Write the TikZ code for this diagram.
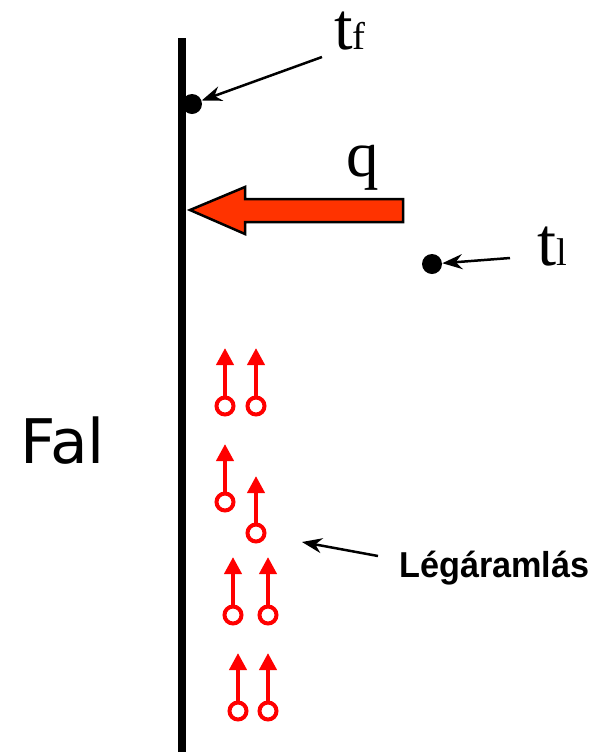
\documentclass[tikz,border=0pt]{standalone}
\usepackage{fontspec}
\setmainfont{Liberation Serif}
\newfontfamily\falfont{DejaVu Sans}
\newfontfamily\labelfont{Liberation Sans}
\usetikzlibrary{arrows.meta}
\definecolor{heatred}{HTML}{FF3300}
\definecolor{flowred}{HTML}{FF0000}

\begin{document}
\begin{tikzpicture}[x=0.02cm, y=-0.02cm,
    wall/.style={line width=0.16cm, black},
    dot/.style={circle, fill=black, inner sep=0pt, minimum width=0.4cm, minimum height=0.32cm},
    pointer/.style={-{Stealth[length=0.4cm, width=0.3cm]}, line width=0.05cm, black},
    bubble/.style={circle, draw=flowred, line width=0.08cm, inner sep=0pt, minimum size=0.34cm},
    flow/.style={-{Triangle[length=0.34cm, width=0.34cm]}, line width=0.08cm, flowred},
    sym/.style={anchor=base west, inner sep=0pt}
  ]
    \useasboundingbox (0,0) rectangle (594,752);

    % wall
    \coordinate (walltop) at (182,38);
    \coordinate (wallbot) at (182,752);
    \draw[wall] (walltop) -- (wallbot);
    \node[sym] (fal) at (20,463) {\falfont\fontsize{35}{40}\selectfont Fal};

    % wall temperature
    \node[dot] (tf) at (192,104) {};
    \node[sym, text height=0.8cm] (tflabel) at (334,49) {\fontsize{38}{42}\selectfont t\fontsize{22}{24}\selectfont f};
    \coordinate (tftail) at (322,57);
    \draw[pointer] (tftail) -- (tf);

    % heat flux
    \draw[line width=0.05cm, fill=heatred] (190,210) -- (245,187) -- (245,199) -- (403,199)
      -- (403,222) -- (245,222) -- (245,234) -- cycle;
    \node[sym] (q) at (346,176) {\fontsize{37}{40}\selectfont q};

    % air temperature
    \node[dot] (tl) at (432,264) {};
    \node[sym] (tllabel) at (537,265) {\fontsize{39}{42}\selectfont t\fontsize{22}{24}\selectfont l};
    \coordinate (tltail) at (510,258);
    \draw[pointer] (tltail) -- (tl);

    % air flow
    \foreach \name/\x/\y/\tip in {a/225/406/348, b/256/406/348, c/225/502/444, d/256/533/476,
                                  e/233/615/557, f/268/615/557, g/238/711/653, h/268/711/653}{
      \node[bubble] (\name) at (\x,\y) {};
      \coordinate (\name top) at (\x,\tip);
      \draw[flow] (\name.north) -- (\name top);
    }
    \node[sym] (flowlabel) at (399,577) {\scalebox{0.95}[1]{\labelfont\bfseries\fontsize{20.5}{24}\selectfont Légáramlás}};
    \coordinate (flowtail) at (378,556);
    \coordinate (flowhead) at (302,542);
    \draw[pointer] (flowtail) -- (flowhead);
\end{tikzpicture}
\end{document}
